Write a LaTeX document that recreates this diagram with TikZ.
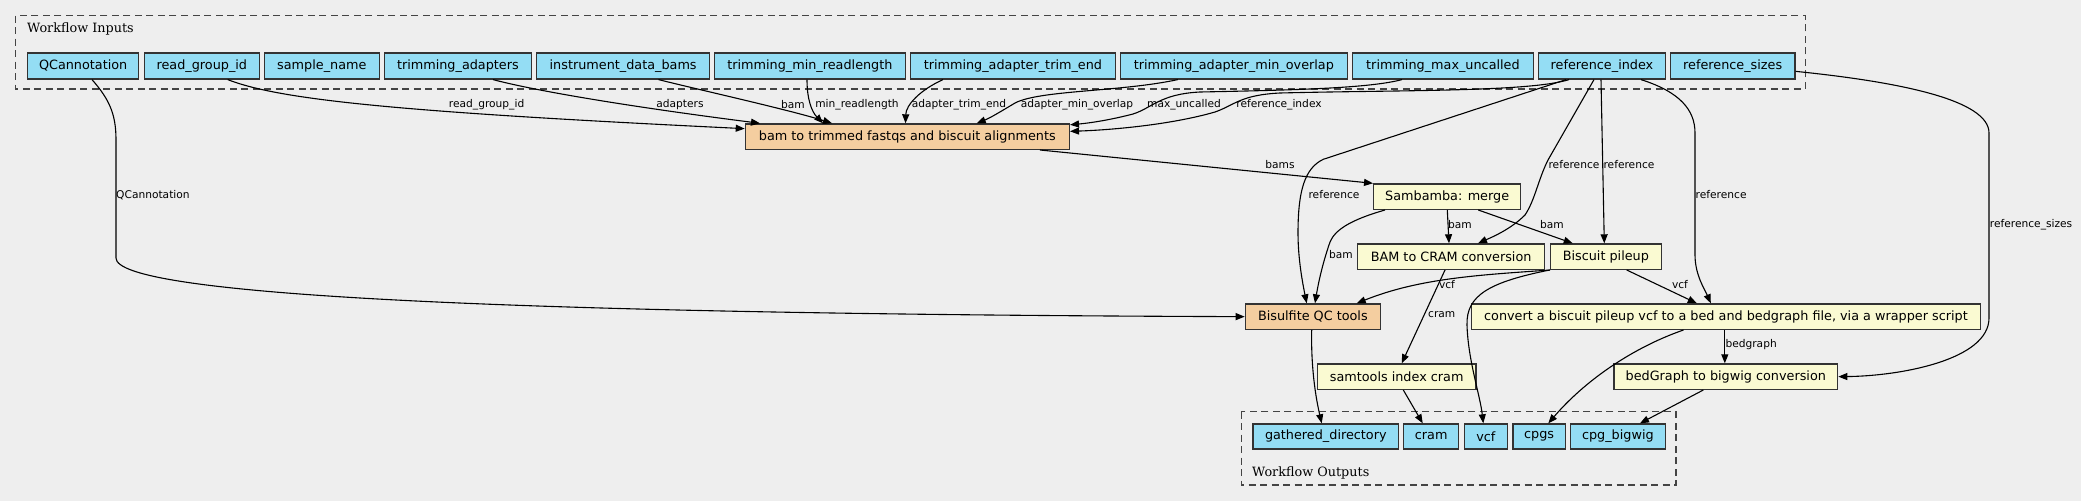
\documentclass[tikz,border=0pt]{standalone}
\usepackage{fontspec}
\setmainfont{DejaVu Sans}
\newfontfamily\clusterfont{DejaVu Serif}
\usetikzlibrary{arrows.meta}
\definecolor{bgc}{HTML}{EEEEEE}
\definecolor{inblue}{HTML}{94DDF4}
\definecolor{steporange}{HTML}{F4CEA0}
\definecolor{stepyellow}{HTML}{FAFAD2}
\definecolor{bordergray}{HTML}{333333}
\definecolor{dashgray}{HTML}{444444}
\begin{document}
\begin{tikzpicture}[x=1pt,y=-1pt,
  box/.style={draw=bordergray, line width=1.3pt, inner sep=0pt, anchor=north west,
    minimum height=25.4pt, font=\fontsize{12.8}{15}\selectfont},
  iobox/.style={box, fill=inblue},
  obox/.style={box, fill=steporange},
  ybox/.style={box, fill=stepyellow},
  conn/.style={draw=black, line width=1.1pt, -{Triangle[length=9pt,width=7pt]}},
  lbl/.style={inner sep=0pt, font=\fontsize{10.65}{12}\selectfont},
  cluster/.style={draw=dashgray, line width=1.3pt, dash pattern=on 7pt off 4.5pt},
  clab/.style={inner sep=0pt, anchor=base west, font=\clusterfont\fontsize{12.8}{15}\selectfont}]
\fill[bgc] (0,0) rectangle (2081,501);
\useasboundingbox (0,0) rectangle (2081,501);

% clusters
\draw[cluster] (15.7,15.7) rectangle (1805.3,89);
\node[clab] (inlab) at (27,32.3) {Workflow Inputs};
\draw[cluster] (1241.3,411.7) rectangle (1676,485);
\node[clab] (outlab) at (1252,476.7) {Workflow Outputs};

% inputs
\node[iobox, minimum height=26pt, minimum width=111pt] (qc) at (27,52.3) {QCannotation};
\node[iobox, minimum height=26pt, minimum width=115pt] (rg) at (143.7,52.3) {read\_group\_id};
\node[iobox, minimum height=26pt, minimum width=115pt] (sn) at (263.7,52.3) {sample\_name};
\node[iobox, minimum height=26pt, minimum width=147.1pt] (ta) at (383.7,52.3) {trimming\_adapters};
\node[iobox, minimum height=26pt, minimum width=173pt] (idb) at (536,52.3) {instrument\_data\_bams};
\node[iobox, minimum height=26pt, minimum width=190.5pt] (tmr) at (714,52.3) {trimming\_min\_readlength};
\node[iobox, minimum height=26pt, minimum width=205.5pt] (tate) at (909.5,52.3) {trimming\_adapter\_trim\_end};
\node[iobox, minimum height=26pt, minimum width=226.5pt] (tamo) at (1120,52.3) {trimming\_adapter\_min\_overlap};
\node[iobox, minimum height=26pt, minimum width=180.6pt] (tmu) at (1352,52.3) {trimming\_max\_uncalled};
\node[iobox, minimum height=26pt, minimum width=126.7pt] (ri) at (1538,52.3) {reference\_index};
\node[iobox, minimum height=26pt, minimum width=124.6pt] (rs) at (1669.7,52.3) {reference\_sizes};

% steps
\node[obox, minimum width=324pt] (bt) at (744.7,123.3) {bam to trimmed fastqs and biscuit alignments};
\node[ybox, minimum width=147pt] (sm) at (1373,183.3) {Sambamba: merge};
\node[ybox, minimum width=187pt] (bc) at (1357,243.3) {BAM to CRAM conversion};
\node[ybox, minimum width=111pt] (bp) at (1549.7,243.3) {Biscuit pileup};
\node[obox, minimum width=135pt] (bq) at (1244.7,303.3) {Bisulfite QC tools};
\node[ybox, minimum width=509pt] (cv) at (1470.8,303.3) {convert a biscuit pileup vcf to a bed and bedgraph file, via a wrapper script};
\node[ybox, minimum width=158.6pt] (st) at (1316.7,363.3) {samtools index cram};
\node[ybox, minimum width=223.7pt] (bg) at (1613.3,363.3) {bedGraph to bigwig conversion};

% outputs
\node[iobox, minimum height=25pt, minimum width=145.7pt] (gd) at (1252.3,423.3) {gathered\_directory};
\node[iobox, minimum height=25pt, minimum width=55pt] (cr) at (1403,423.3) {cram};
\node[iobox, minimum height=25pt, minimum width=43pt] (vc) at (1463.7,423.3) {vcf};
\node[iobox, minimum height=25pt, minimum width=52.4pt] (cp) at (1512.3,423.3) {cpgs};
\node[iobox, minimum height=25pt, minimum width=95pt] (cb) at (1569.7,423.3) {cpg\_bigwig};

% connectors
\draw[conn] ([xshift=65pt]qc.south west) .. controls (110,100) and (116,115) .. (116,140) -- (116,258) .. controls (116,295) and (500,314) .. (bq.west);
\draw[conn] ([xshift=84pt]rg.south west) .. controls (280,100) and (400,112) .. ([yshift=8pt]bt.west);
\draw[conn] ([xshift=109.3pt]ta.south west) .. controls (540,92) and (640,108) .. ([xshift=15.3pt]bt.north west);
\draw[conn] ([xshift=122.5pt]idb.south west) .. controls (700,90) and (790,110) .. ([xshift=87.3pt]bt.north west);
\draw[conn] ([xshift=93pt]tmr.south west) .. controls (807,100) and (812,112) .. ([xshift=78.3pt]bt.north west);
\draw[conn] ([xshift=33.5pt]tate.south west) .. controls (920,90) and (906,105) .. ([xshift=160.8pt]bt.north west);
\draw[conn] ([xshift=57.8pt]tamo.south west) .. controls (1120,92) and (1040,90) .. (1015,103) .. controls (1000,112) and (990,118) .. ([xshift=232pt]bt.north west);
\draw[conn] ([xshift=50pt]tmu.south west) .. controls (1370,88) and (1300,90) .. (1200,92) .. controls (1160,94) and (1152,108) .. (1133,114) .. controls (1110,120) and (1090,123) .. ([yshift=-1.5pt]bt.north east);
\draw[conn] ([xshift=31pt]ri.south west) .. controls (1530,92) and (1400,90) .. (1280,93) .. controls (1240,95) and (1235,105) .. (1215,112) .. controls (1170,125) and (1110,130) .. ([yshift=5.3pt]bt.east);
\draw[conn] ([xshift=28pt]ri.south west) -- (1323.3,159.3) .. controls (1305,168) and (1298,190) .. (1298,233) .. controls (1298,260) and (1303,285) .. ([xshift=62pt]bq.north west);
\draw[conn] ([xshift=56pt]ri.south west) -- (1548,160) .. controls (1538,180) and (1535,200) .. (1525,215) .. controls (1510,230) and (1490,238) .. ([xshift=121pt]bc.north west);
\draw[conn] ([xshift=63pt]ri.south west) -- ([xshift=54.6pt]bp.north west);
\draw[conn] ([xshift=103pt]ri.south west) .. controls (1680,92) and (1695,110) .. (1695,133) -- (1695,255) .. controls (1695,275) and (1705,290) .. ([xshift=240pt]cv.north west);
\draw[conn] ([yshift=-5.4pt]rs.east) .. controls (1900,82) and (1989,100) .. (1989,133) -- (1989,318) .. controls (1989,360) and (1900,376) .. (bg.east);
\draw[conn] ([xshift=295.3pt]bt.south west) -- (sm.north west);
\draw[conn] ([xshift=12pt]sm.south west) .. controls (1350,220) and (1335,230) .. (1330,242) .. controls (1322,265) and (1318,285) .. ([xshift=70.3pt]bq.north west);
\draw[conn] ([xshift=74.3pt]sm.south west) -- ([xshift=92pt]bc.north west);
\draw[conn] ([xshift=105.3pt]sm.south west) -- ([xshift=23pt]bp.north west);
\draw[conn] ([xshift=88pt]bc.south west) -- ([xshift=85pt]st.north west);
\draw[conn] ([xshift=0.3pt]bp.south west) .. controls (1480,275) and (1420,278) .. ([xshift=112pt]bq.north west);
\draw[conn] (bp.south west) .. controls (1490,282) and (1466,295) .. (1467,325) .. controls (1468,360) and (1480,395) .. ([xshift=19.6pt]vc.north west);
\draw[conn] ([xshift=77pt]bp.south west) -- ([xshift=226pt]cv.north west);
\draw[conn] ([xshift=67pt]bq.south west) .. controls (1311,360) and (1314,390) .. ([xshift=69.4pt]gd.north west);
\draw[conn] ([xshift=86.6pt]st.south west) -- ([xshift=19.7pt]cr.north west);
\draw[conn] ([xshift=212.7pt]cv.south west) .. controls (1640,345) and (1590,375) .. ([xshift=36pt]cp.north west);
\draw[conn] ([xshift=254pt]cv.south west) -- ([xshift=111.5pt]bg.north west);
\draw[conn] ([xshift=90pt]bg.south west) -- ([xshift=70.3pt]cb.north west);

% connector labels
\node[lbl, anchor=west] (l1) at (116,195) {QCannotation};
\node[lbl] (l2) at (486.6,105) {read\_group\_id};
\node[lbl] (l3) at (680,105) {adapters};
\node[lbl] (l4) at (793,105) {bam};
\node[lbl] (l5) at (857,105) {min\_readlength};
\node[lbl] (l6) at (959,105) {adapter\_trim\_end};
\node[lbl] (l7) at (1077,105) {adapter\_min\_overlap};
\node[lbl] (l8) at (1184,105) {max\_uncalled};
\node[lbl] (l9) at (1279,105) {reference\_index};
\node[lbl] (l10) at (1334,195) {reference};
\node[lbl] (l11) at (1574,165) {reference};
\node[lbl] (l12) at (1629,165) {reference};
\node[lbl, anchor=west] (l13) at (1695.5,195) {reference};
\node[lbl, anchor=west] (l14) at (1989.7,225) {reference\_sizes};
\node[lbl] (l15) at (1280,165) {bams};
\node[lbl] (l16) at (1341,255) {bam};
\node[lbl] (l17) at (1460,225) {bam};
\node[lbl] (l18) at (1552,225) {bam};
\node[lbl] (l19) at (1441.7,315) {cram};
\node[lbl] (l20) at (1447,285) {vcf};
\node[lbl] (l21) at (1680,285) {vcf};
\node[lbl, anchor=west] (l22) at (1725.3,344.3) {bedgraph};
\end{tikzpicture}
\end{document}
